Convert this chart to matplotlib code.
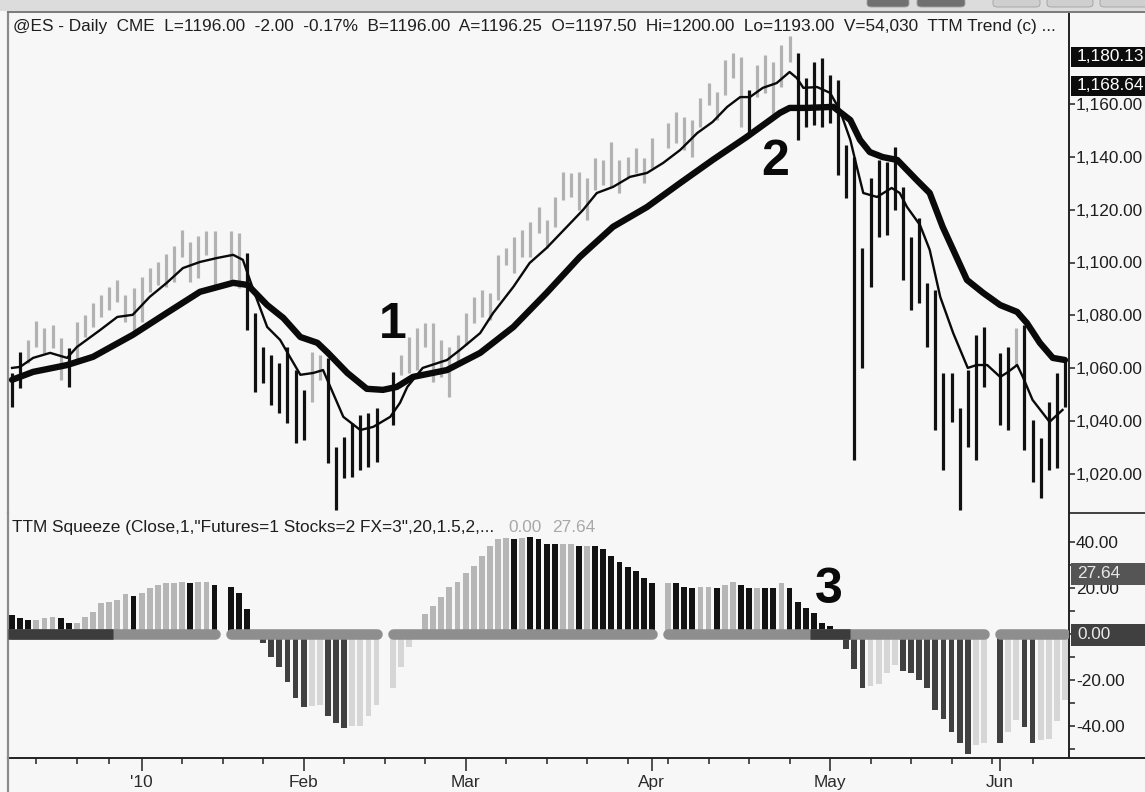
import numpy as np
import pandas as pd
import matplotlib
matplotlib.use("Agg")
import matplotlib.pyplot as plt
from matplotlib.patches import Rectangle, FancyBboxPatch
from matplotlib.lines import Line2D
from matplotlib.ticker import FuncFormatter, FixedLocator

plt.rcParams['font.family'] = ['Liberation Sans', 'DejaVu Sans']

# ---------------------------------------------------------------------------
# data (one slot per session, None = holiday slot)
# ---------------------------------------------------------------------------
highs = [1058.2, 1066.2, 1070.7, 1077.9, 1075.2, 1076.4, 1071.5, 1067.7, 1077.5, 1080.2,
         1084.7, 1087.7, 1090.8, 1093.4, 1087.7, 1090.4, 1094.5, 1098.0, 1100.2, 1103.2,
         1106.3, 1112.3, 1107.8, 1110.0, 1111.9, 1111.9, None, 1111.9, 1111.2, 1103.6,
         1080.9, 1068.0, 1065.0, 1062.0, 1068.0, 1059.3, 1051.8, 1066.2, 1065.0, 1063.9,
         1030.2, 1034.0, 1039.3, 1042.3, 1043.1, 1045.0, None, 1058.6, 1065.0, 1071.8,
         1075.2, 1077.1, 1077.1, 1070.7, 1068.0, 1072.6, 1080.9, 1087.0, 1089.6, 1088.5,
         1102.9, 1105.5, 1109.7, 1112.3, 1115.4, 1121.0, 1116.1, 1124.8, 1134.3, 1133.9,
         1134.3, 1132.0, 1139.6, 1138.8, 1145.6, 1138.8, 1139.9, 1143.3, 1139.6, 1147.1,
         None, 1152.8, 1157.0, 1155.1, 1153.9, 1162.3, 1167.9, 1164.5, 1176.6, 1179.3,
         1177.8, 1165.3, 1174.8, 1178.5, 1175.9, 1182.3, 1185.7, 1179.3, 1169.8, 1175.9,
         1177.4, 1171.0, 1169.1, 1144.5, 1139.9, 1105.5, 1132.0, 1138.8, 1138.1, 1143.7,
         1128.6, 1109.7, 1116.9, 1092.3, 1089.6, 1058.2, 1058.2, 1045.0, 1059.3, 1072.6,
         1075.6, None, 1065.8, 1068.0, 1075.2, 1076.4, 1040.4, 1033.6, 1047.2, 1058.2,
         1063.1]
lows = [1045.3, 1052.5, 1062.0, 1068.0, 1065.8, 1067.7, 1055.6, 1052.9, 1063.1, 1071.8,
        1075.6, 1079.4, 1082.0, 1085.1, 1077.5, 1074.5, 1077.5, 1088.9, 1091.5, 1090.8,
        1092.6, 1102.1, 1092.6, 1094.2, 1102.9, 1091.5, None, 1091.5, 1090.4, 1074.5,
        1051.0, 1054.4, 1046.1, 1043.1, 1039.3, 1031.7, 1032.9, 1047.2, 1055.6, 1024.2,
        1006.4, 1018.5, 1018.9, 1021.5, 1022.6, 1024.5, None, 1038.5, 1057.4, 1058.2,
        1059.3, 1068.0, 1054.8, 1056.7, 1049.1, 1062.0, 1068.8, 1077.1, 1079.4, 1078.3,
        1085.8, 1099.1, 1096.1, 1102.1, 1102.1, 1111.2, 1105.5, 1113.5, 1123.7, 1124.8,
        1119.9, 1116.1, 1127.5, 1129.3, 1128.6, 1126.3, 1132.4, 1133.9, 1130.1, 1135.8,
        None, 1143.3, 1145.2, 1142.6, 1139.9, 1151.3, 1159.6, 1153.9, 1163.4, 1169.8,
        1151.3, 1147.5, 1162.6, 1164.2, 1155.8, 1166.4, 1175.9, 1146.4, 1151.3, 1152.1,
        1151.3, 1152.8, 1133.1, 1124.4, 1025.3, 1060.1, 1090.8, 1109.7, 1110.4, 1119.9,
        1093.4, 1082.1, 1084.7, 1068.0, 1036.6, 1021.5, 1039.7, 1006.4, 1030.2, 1025.3,
        1052.9, None, 1038.5, 1036.6, 1061.2, 1029.1, 1017.0, 1010.9, 1021.5, 1022.3,
        1045.3]
# TTM trend colouring of the price bars: g = up (grey), k = down (black)
trend = ("kkgggggkgg" "gggggggggg" "gggggg-ggk" "kkkkkkkggk" "kkkkkk-kgg"
         "gggggggggg" "gggggggggg" "gggggggggg" "-ggggggggg" "gkgggggkkk"
         "kkkkkkkkkk" "kkkkkkkkkk" "k-kkgkkkkk" "k")

# moving averages (bar position, price)
fast_pos = [0.0, 1.0, 2.6, 4.7, 6.8, 8.0, 10.9, 13.0, 14.9, 17.0,
            19.1, 21.1, 23.2, 25.3, 27.3, 28.5, 29.8, 31.5, 33.1, 34.3,
            35.6, 37.2, 38.4, 39.3, 40.9, 43.0, 44.6, 46.7, 47.9, 48.8,
            50.7, 53.7, 55.3, 57.8, 59.4, 61.9, 63.9, 66.0, 68.5, 70.5,
            72.2, 74.2, 76.3, 78.4, 80.4, 82.5, 84.6, 86.5, 88.3, 89.9,
            91.1, 92.7, 94.4, 96.0, 96.9, 97.7, 99.4, 101.0, 102.2, 103.5,
            104.3, 105.1, 106.8, 108.6, 109.6, 110.5, 112.1, 113.3, 114.6, 116.2,
            118.0, 119.1, 120.4, 122.0, 122.8, 124.1, 124.8, 126.0, 128.1, 129.7]
fast_val = [1060.1, 1060.5, 1063.9, 1065.8, 1063.9, 1068.0, 1074.5, 1079.4, 1080.2, 1087.0,
            1092.3, 1097.9, 1100.2, 1101.7, 1102.9, 1101.0, 1089.6, 1075.6, 1070.7, 1064.3,
            1057.5, 1058.2, 1059.3, 1052.9, 1041.6, 1036.6, 1037.8, 1041.6, 1046.9, 1052.9,
            1060.1, 1063.1, 1066.9, 1073.3, 1080.9, 1090.8, 1099.8, 1105.5, 1113.5, 1119.9,
            1126.3, 1128.6, 1132.4, 1133.9, 1137.7, 1142.6, 1149.0, 1153.2, 1158.9, 1162.6,
            1162.6, 1166.1, 1167.9, 1172.1, 1169.8, 1166.1, 1166.4, 1164.2, 1157.7, 1146.4,
            1136.2, 1126.3, 1124.8, 1128.2, 1126.3, 1121.0, 1114.2, 1104.8, 1087.0, 1073.3,
            1060.1, 1061.2, 1061.2, 1056.7, 1058.2, 1061.2, 1056.7, 1048.0, 1039.7, 1044.2]
slow_pos = [0.0, 2.6, 6.8, 10.0, 14.9, 19.1, 23.2, 27.3, 29.1, 31.5,
            33.5, 35.6, 37.7, 39.0, 41.4, 43.8, 45.8, 47.5, 49.5, 53.7,
            57.8, 61.9, 66.0, 70.1, 74.2, 78.4, 82.5, 86.5, 90.7, 94.8,
            96.0, 98.1, 101.4, 103.5, 104.7, 105.9, 107.5, 109.3, 111.7, 113.3,
            114.9, 116.2, 117.9, 119.9, 122.0, 124.1, 125.3, 126.9, 128.5, 130.0]
slow_val = [1055.6, 1058.6, 1061.2, 1064.3, 1072.6, 1080.9, 1088.9, 1092.3, 1091.5, 1083.9,
            1079.0, 1071.8, 1069.6, 1065.8, 1058.2, 1052.2, 1051.8, 1052.9, 1056.7, 1059.3,
            1065.8, 1075.6, 1088.5, 1102.1, 1113.5, 1121.0, 1130.1, 1138.8, 1147.5, 1156.6,
            1158.5, 1158.5, 1158.9, 1153.9, 1146.4, 1141.8, 1139.9, 1138.8, 1131.2, 1126.3,
            1113.5, 1104.8, 1093.4, 1088.5, 1083.9, 1081.3, 1077.1, 1069.6, 1063.9, 1063.1]

# TTM squeeze histogram
squeeze = [8.2, 6.8, 6.1, 6.1, 6.8, 7.5, 6.8, 4.9, 4.9, 7.5,
           9.4, 13.3, 14.0, 14.7, 17.2, 16.5, 17.9, 19.8, 21.2, 21.9,
           21.9, 22.6, 21.9, 22.6, 22.6, 21.2, None, 20.5, 17.6, 10.8,
           0.0, -3.8, -10.1, -14.1, -20.6, -27.8, -31.5, -31.2, -30.7, -35.5,
           -38.4, -40.5, -39.8, -39.8, -35.5, -30.7, None, -23.5, -14.1, -5.5,
           0.0, 8.7, 12.1, 16.1, 20.5, 22.6, 26.5, 29.6, 33.8, 38.2,
           41.0, 41.7, 41.0, 41.7, 41.9, 41.0, 39.0, 39.0, 39.0, 39.0,
           38.2, 38.2, 38.2, 36.8, 33.8, 31.0, 28.9, 27.3, 24.1, 21.9,
           None, 21.9, 21.9, 20.5, 19.8, 20.5, 20.5, 19.8, 21.2, 22.6,
           21.2, 19.8, 19.8, 19.8, 19.8, 22.0, 19.8, 14.0, 11.1, 9.2,
           4.9, 3.5, 1.5, -6.6, -15.3, -23.2, -22.5, -21.8, -16.8, -13.4,
           -16.0, -17.0, -19.9, -23.2, -32.9, -36.9, -42.3, -47.3, -51.9, -48.1,
           -47.1, None, -47.1, -42.3, -37.2, -40.4, -47.1, -45.9, -45.5, -37.5,
           -28.6]
# c = up & rising, b = up & falling, r = down & falling, y = down & rising
squeeze_state = ("bbbcccbbcc" "cccccbcccc" "ccbccb-bbb" "brrrrrryyr" "rryyyy-yyy"
                 "yccccccccc" "ccbcbbbbcc" "bcbbbbbbbb" "-cbbbccbcc" "bbcbbcbbbb"
                 "bbbrrryyyy" "rrrrrrrrry" "y-ryyrryyy" "y")
squeeze_on = [(0, 12), (99, 103)]   # bars where the squeeze dots are dark

price_ticks = [1020, 1040, 1060, 1080, 1100, 1120, 1140, 1160]
osc_ticks = [-40, -20, 0, 20, 40]
osc_minor = [-50, -30, -10, 10, 30]
price_flags = [1180.13, 1168.64]
osc_flags = [27.64, 0.00]
labels_marks = ['1', '2', '3']

header = ("@ES - Daily  CME  L=1196.00  -2.00  -0.17%  B=1196.00  A=1196.25  "
          "O=1197.50  Hi=1200.00  Lo=1193.00  V=54,030  TTM Trend (c) ...")
osc_header = 'TTM Squeeze (Close,1,"Futures=1 Stocks=2 FX=3",20,1.5,2,...'

# session calendar (CME keeps US holidays as empty slots)
dates = pd.bdate_range('2009-12-09', '2010-06-11')
dates = dates[~dates.isin(pd.to_datetime(['2009-12-25', '2010-01-01']))]
x = np.arange(len(dates))
hi = np.array(highs, dtype=float)
lo = np.array(lows, dtype=float)
sq = np.array(squeeze, dtype=float)

# ---------------------------------------------------------------------------
W, H = 1145, 792
BG = '#f7f7f7'
FS = 12.4
def fx(px): return px / W
def fy(py): return 1 - py / H

fig = plt.figure(figsize=(W / 100, H / 100), dpi=100)
fig.patch.set_facecolor(BG)

L, R = 8, 1069
ax1 = fig.add_axes([fx(L), fy(513), (R - L) / W, (513 - 12) / H])
ax2 = fig.add_axes([fx(L), fy(758), (R - L) / W, (758 - 513) / H], sharex=ax1)
for ax in (ax1, ax2):
    ax.set_facecolor(BG)
    ax.spines['left'].set_color('#8c8c8c')
    ax.spines['left'].set_linewidth(1.6)
    ax.spines['right'].set_color('#222222')
    ax.spines['right'].set_linewidth(1.4)
ax1.spines['top'].set_color('#7a7a7a')
ax1.spines['top'].set_linewidth(1.4)
ax1.spines['bottom'].set_visible(False)
ax2.spines['top'].set_visible(False)
ax2.spines['bottom'].set_color('#222222')
ax2.spines['bottom'].set_linewidth(1.4)

ax1.set_xlim(-0.5, 130.5)
ax1.set_ylim(1005.2, 1194.8)
ax2.set_ylim(-53.7, 52.4)

# --- price bars -----------------------------------------------------------
bar_col = {'g': '#b2b2b2', 'k': '#111111'}
ok = ~np.isnan(hi)
ax1.vlines(x[ok], lo[ok], hi[ok], colors=[bar_col[trend[i]] for i in x[ok]],
           linewidth=2.3, zorder=2)
ax1.plot(slow_pos, slow_val, color='#0a0a0a', lw=4.6, solid_capstyle='round',
         solid_joinstyle='round', zorder=3)
ax1.plot(fast_pos, fast_val, color='#0a0a0a', lw=1.7, solid_joinstyle='round', zorder=3)

# --- squeeze histogram ------------------------------------------------------
hist_col = {'c': '#b6b6b6', 'b': '#121212', 'r': '#404040', 'y': '#d6d6d6'}
ok2 = ~np.isnan(sq)
ax2.bar(x[ok2], sq[ok2], width=0.72, color=[hist_col[squeeze_state[i]] for i in x[ok2]],
        zorder=2)

# squeeze dots drawn as a rounded band, broken at empty sessions
runs, start = [], None
for i in x:
    if ok2[i] and start is None:
        start = i
    if not ok2[i] and start is not None:
        runs.append((start, i - 1))
        start = None
if start is not None:
    runs.append((start, x[-1]))
for a, b in runs:
    ax2.plot([a, b], [0, 0], color='#8e8e8e', lw=7.6, solid_capstyle='round', zorder=3)
for a, b in squeeze_on:
    ax2.plot([a - 0.5, b + 0.5], [0, 0], color='#3c3c3c', lw=7.6,
             solid_capstyle='butt', zorder=4)

# --- axes / ticks -----------------------------------------------------------
ax1.tick_params(axis='x', bottom=False, labelbottom=False)
for ax in (ax1, ax2):
    ax.yaxis.tick_right()
    ax.tick_params(axis='y', which='both', direction='out', length=4, width=1.1,
                   color='#222222', pad=1, labelsize=FS, labelcolor='#1e1e1e')
ax1.set_yticks(price_ticks)
ax1.yaxis.set_major_formatter(FuncFormatter(lambda v, p: f'{v:,.2f}'))
ax2.set_yticks(osc_ticks)
ax2.yaxis.set_minor_locator(FixedLocator(osc_minor))
ax2.yaxis.set_major_formatter(FuncFormatter(lambda v, p: f'{v:.2f}'))

month_first = [i for i in x if i > 0 and dates[i].month != dates[i - 1].month]
month_lab = ["'10" if dates[i].month == 1 else dates[i].strftime('%b') for i in month_first]
mondays = [i for i in x if dates[i].weekday() == 0 and i not in month_first]
ax2.set_xticks(month_first)
ax2.set_xticklabels(month_lab)
ax2.set_xticks(mondays, minor=True)
ax2.tick_params(axis='x', which='major', direction='out', length=9, width=1.1,
                color='#222222', pad=3, labelsize=FS, labelcolor='#2a2a2a')
ax2.tick_params(axis='x', which='minor', direction='out', length=4, width=1.1,
                color='#222222')

# value flags on the right scale
def flag(ax, yv, txt, face, fg, h):
    tr = ax.get_yaxis_transform()
    ax.add_patch(Rectangle((1.0015, yv - h / 2), 0.075, h, transform=tr,
                           facecolor=face, edgecolor='none', clip_on=False, zorder=5))
    ax.text(1.0075, yv, txt, transform=tr, color=fg, fontsize=FS, va='center',
            ha='left', clip_on=False, zorder=6)

flag(ax1, price_flags[0] - 2.3, f'{price_flags[0]:,.2f}', '#0c0c0c', '#ffffff', 7.4)
flag(ax1, price_flags[1] - 1.8, f'{price_flags[1]:,.2f}', '#0c0c0c', '#ffffff', 7.4)
flag(ax2, osc_flags[0] - 1.6, f'{osc_flags[0]:.2f}', '#555555', '#e8e8e8', 9.4)
flag(ax2, osc_flags[1] - 0.4, f'{osc_flags[1]:.2f}', '#404040', '#e8e8e8', 9.4)

# --- texts --------------------------------------------------------------------
fig.text(fx(13), fy(31.5), header, fontsize=FS, color='#1e1e1e', va='baseline')
fig.text(fx(12), fy(532), osc_header, fontsize=FS, color='#1e1e1e', va='baseline')
fig.text(fx(508), fy(532), f'{osc_flags[1]:.2f}', fontsize=FS, color='#a8a8a8', va='baseline')
fig.text(fx(552), fy(532), f'{osc_flags[0]:.2f}', fontsize=FS, color='#a8a8a8', va='baseline')

for (px, py), t in zip([(393, 338), (775, 175), (829, 603)], labels_marks):
    fig.text(fx(px), fy(py), t, fontsize=36, fontweight='bold', color='#0a0a0a',
             ha='center', va='baseline')

# --- window chrome --------------------------------------------------------------
fig.add_artist(Rectangle((0, fy(11)), 1, 11 / H, transform=fig.transFigure,
                         facecolor='#dcdcdc', edgecolor='none'))
for x0, x1, c in [(867, 909, '#707070'), (917, 965, '#707070'), (993, 1040, '#cfcfcf'),
                  (1047, 1093, '#cfcfcf'), (1100, 1150, '#cfcfcf')]:
    fig.add_artist(FancyBboxPatch((fx(x0), fy(7)), (x1 - x0) / W, 9 / H,
                                  boxstyle='round,pad=0,rounding_size=0.004',
                                  transform=fig.transFigure, facecolor=c,
                                  edgecolor='#a0a0a0', lw=0.6))
fig.add_artist(Line2D([fx(R), 1], [fy(12), fy(12)], transform=fig.transFigure,
                      color='#7a7a7a', lw=1.4))
fig.add_artist(Line2D([fx(R), 1], [fy(513), fy(513)], transform=fig.transFigure,
                      color='#222222', lw=1.2))
fig.add_artist(Line2D([fx(R), 1], [fy(758), fy(758)], transform=fig.transFigure,
                      color='#222222', lw=1.4))
fig.add_artist(Line2D([fx(L), fx(L)], [0, fy(758)], transform=fig.transFigure,
                      color='#8c8c8c', lw=1.6))

fig.savefig('out.png', dpi=100, facecolor=BG)
